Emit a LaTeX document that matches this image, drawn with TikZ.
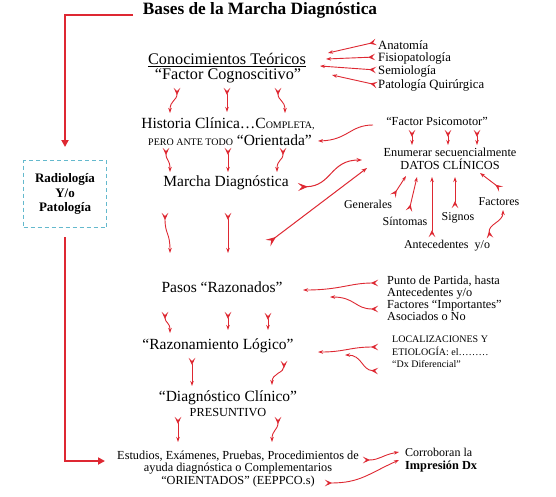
\documentclass[tikz,border=0pt]{standalone}
\usepackage{fontspec}
\setmainfont{Liberation Serif}
\usetikzlibrary{arrows.meta,calc}
\definecolor{ared}{RGB}{222,40,50}
\definecolor{boxcyan}{RGB}{100,185,205}
\newcommand{\fsc}[1]{{\fontsize{10}{12}\selectfont #1}}
\begin{document}
\begin{tikzpicture}[x=1pt,y=-1pt,
  big/.style={inner sep=0pt,align=center,font=\fontsize{15.5}{17}\selectfont},
  mid/.style={inner sep=0pt,align=center,font=\fontsize{12.3}{12.5}\selectfont},
  sml/.style={inner sep=0pt,align=left,anchor=west,font=\fontsize{12.7}{13}\selectfont},
  lbl/.style={inner sep=0pt,align=center,font=\fontsize{12}{13}\selectfont},
  titl/.style={inner sep=0pt,font=\bfseries\fontsize{17.3}{19}\selectfont},
  fl/.style={draw=ared,line width=0.9pt,
    {Stealth[reversed,length=7pt,width=6.5pt,inset=3pt]}-{Stealth[length=5pt,width=3.5pt]}},
  flb/.style={draw=ared,line width=1pt,
    {Stealth[reversed,length=10pt,width=8pt,inset=4pt]}-{Stealth[length=5.5pt,width=4pt]}},
  pl/.style={draw=ared,line width=0.9pt,-{Stealth[length=5pt,width=3.5pt]}},
  bigl/.style={draw=ared,line width=2.2pt,-{Triangle[length=7pt,width=7pt]}},
  dbox/.style={draw=boxcyan,dashed,line width=1pt,dash pattern=on 4pt off 3pt,
    minimum width=83pt,minimum height=67pt,align=center,inner sep=0pt,
    font=\bfseries\fontsize{13}{14.5}\selectfont}
]
\useasboundingbox (0,0) rectangle (556,496);
\fill[white] (0,0) rectangle (556,496);

% ---- text nodes ----
\node[titl] (title) at (260,10) {Bases de la Marcha Diagnóstica};
\node[dbox] (rbox) at (65,194) {Radiología\\Y/o\\Patología};

\node[big,font=\fontsize{16.2}{17}\selectfont] (con) at (227,60) {\underline{Conocimientos Teóricos}};
\node[big,font=\fontsize{16.2}{17}\selectfont] (fcog) at (228,76) {“Factor Cognoscitivo”};
\node[sml] (anat) at (378,45) {Anatomía};
\node[sml] (fisio) at (378,58) {Fisiopatología};
\node[sml] (semio) at (378,71) {Semiología};
\node[sml] (patq) at (378,85) {Patología Quirúrgica};

\node[big] (hist) at (228,124) {Historia Clínica\dots C\fsc{OMPLETA,}};
\node[big] (orie) at (230,140) {\fsc{PERO ANTE TODO} “Orientada”};
\node[mid] (fpsi) at (437,121) {“Factor Psicomotor”};
\node[mid] (enum) at (450,152) {Enumerar secuencialmente};
\node[mid] (datos) at (450,164) {DATOS CLÍNICOS};

\node[big] (march) at (226,183) {Marcha Diagnóstica};
\node[lbl] (gen) at (368,204) {Generales};
\node[lbl] (sint) at (405,221) {Síntomas};
\node[lbl] (sig) at (458,218) {Signos};
\node[lbl] (fact) at (499,202) {Factores};
\node[lbl] (ante) at (447,246) {Antecedentes\enspace y/o};

\node[big] (pasos) at (222,287) {Pasos “Razonados”};
\node[sml,font=\fontsize{12.3}{12}\selectfont] (punto) at (387,298)
  {Punto de Partida, hasta\\Antecedentes y/o\\Factores “Importantes”\\Asociados o No};

\node[big] (razo) at (218,346) {“Razonamiento Lógico”};
\node[sml,font=\fontsize{10}{12.5}\selectfont] (loc) at (392,352)
  {LOCALIZACIONES Y\\ETIOLOGÍA: el\dots\dots\dots\\“Dx Diferencial”};

\node[big] (diag) at (228,398) {“Diagnóstico Clínico”};
\node[mid] (pres) at (228,413) {PRESUNTIVO};

\node[mid] (estu) at (238,469) {Estudios, Exámenes, Pruebas, Procedimientos de\\ayuda diagnóstica o Complementarios\\“ORIENTADOS” (EEPPCO.s)};
\node[sml,font=\fontsize{12}{13}\selectfont] (corr) at (405,452) {Corroboran la};
\node[sml,font=\bfseries\fontsize{12.3}{13}\selectfont] (impr) at (405,467) {Impresión Dx};

% ---- coordinates ----
\coordinate (L0) at (133,15);
\coordinate (L1) at (65,147);
\coordinate (L2) at (65,237);
\coordinate (L3) at (105,461);

% ---- thick L connector ----
\draw[bigl] (L0) -| (L1);
\draw[bigl] (L2) |- (L3);

% ---- list -> Conocimientos ----
\coordinate (c1) at (328,53);
\coordinate (c2) at (326,59);
\coordinate (c3) at (320,66);
\coordinate (c4) at (332,75);
\draw[fl] ([xshift=-2pt,yshift=3pt]anat.west) -- (c1);
\draw[fl] ([xshift=-3pt,yshift=1pt]fisio.west) -- (c2);
\draw[fl] ([xshift=-2pt,yshift=1pt]semio.west) -- (c3);
\draw[fl] ([xshift=-1pt]patq.west) -- (c4);

% ---- Factor Cognoscitivo -> Historia ----
\draw[fl] (177,88) .. controls (177,101) and (170,100) .. (170,113);
\draw[fl] (227,88) -- (227,112);
\draw[fl] (278,88) .. controls (278,101) and (285,100) .. (285,113);

% ---- Factor Psicomotor -> Orientada ----
\coordinate (o1) at (373,125);
\coordinate (o2) at (318,141);
\draw[pl] (o1) .. controls (350,125) and (348,140) .. (o2);

% ---- Factor Psicomotor -> Enumerar ----
\draw[fl] (412,130) -- (412,145);
\draw[fl] (448,130) -- (448,145);
\draw[fl] (477,130) -- (477,145);

% ---- Historia -> Marcha ----
\draw[fl] (166,148) .. controls (166,161) and (170,159) .. (170,172);
\draw[fl] (228,148) -- (228,172);
\draw[fl] (283,148) .. controls (283,161) and (277,159) .. (277,172);

% ---- Marcha -> Enumerar ----
\draw[flb] (298,187) .. controls (332,186) and (330,160) .. (362,160);
\draw[flb] (268,243) -- (367,168);

% ---- data items -> DATOS CLINICOS ----
\draw[fl] (393,196) -- (406,176);
\draw[fl] (409,211) -- (417,177);
\draw[fl] (432,237) -- (432,177);
\draw[fl] (455,208) -- (455,177);
\draw[fl] (501,189) -- (480,173);
\draw[fl] (490,238) .. controls (488,224) and (503,222) .. (503,210);

% ---- Marcha -> Pasos ----
\draw[fl] (165,213) .. controls (165,235) and (170,232) .. (170,253);
\draw[fl] (228,213) -- (228,253);

% ---- Punto -> Pasos ----
\draw[fl] (378,283) .. controls (350,283) and (340,290) .. (303,290);
\draw[fl] (378,309) .. controls (355,309) and (355,297) .. (330,297);

% ---- Pasos -> Razonamiento ----
\draw[fl] (165,312) .. controls (165,323) and (170,322) .. (170,333);
\draw[fl] (228,312) -- (228,330);
\draw[fl] (268,313) -- (268,330);

% ---- Localizaciones -> Razonamiento ----
\draw[fl] (378,347) .. controls (350,347) and (345,352) .. (318,352);
\draw[fl] (378,371) .. controls (362,370) and (362,355) .. (345,355);

% ---- Razonamiento -> Diagnostico ----
\draw[fl] (192,358) -- (192,386);
\draw[fl] (284,361) .. controls (284,373) and (272,373) .. (272,385);

% ---- Diagnostico -> Estudios ----
\draw[fl] (178,417) -- (178,442);
\draw[fl] (278,417) .. controls (278,430) and (272,430) .. (272,442);

% ---- Estudios -> Corroboran ----
\draw[fl] (363,460) .. controls (380,460) and (382,455) .. ([xshift=-6pt]corr.west);
\draw[fl] (325,483) .. controls (360,483) and (368,474) .. ([xshift=-6pt,yshift=7pt]impr.west);
\end{tikzpicture}
\end{document}
